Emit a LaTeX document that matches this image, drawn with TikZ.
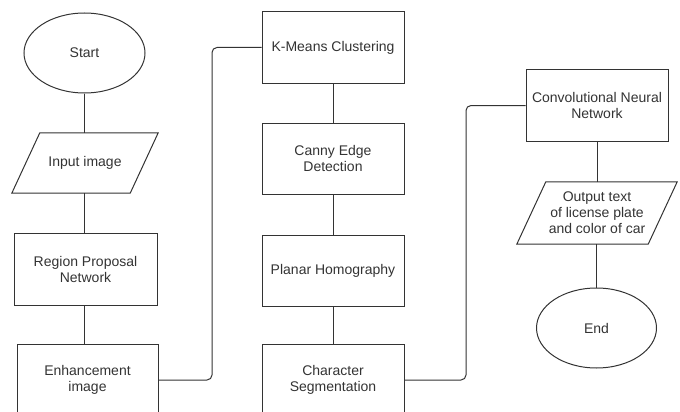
\documentclass[tikz,border=0pt]{standalone}
\usepackage{fontspec}
\setmainfont{Liberation Sans}
\usetikzlibrary{shapes.geometric}
\definecolor{ln}{HTML}{333333}
\definecolor{tx}{HTML}{333333}
\begin{document}
\begin{tikzpicture}[x=1pt,y=-1pt,
  every node/.style={font=\fontsize{14}{16}\selectfont, text=tx, align=center, inner sep=0pt},
  procbox/.style={draw=ln, line width=1pt, rectangle, minimum width=142pt, minimum height=71pt},
  term/.style={draw=ln, line width=1pt, ellipse, minimum width=121pt, minimum height=80pt},
  iobox/.style={rectangle, draw=none},
  pgram/.style={draw=ln, line width=1pt},
  link/.style={draw=ln, line width=1pt, rounded corners=5pt}]
\useasboundingbox (0,0) rectangle (680,412);
\clip (0,0) rectangle (680,412);
% column 1
\node[term] (start) at (84.5,53) {Start};
\node[iobox, minimum width=118pt, minimum height=60pt] (in) at (85,163) {Input image};
\draw[pgram] ([xshift=14pt]in.north west) -- ([xshift=14pt]in.north east) -- ([xshift=-14pt]in.south east) -- ([xshift=-14pt]in.south west) -- cycle;
\node[procbox, minimum width=143pt, minimum height=72pt] (rpn) at (85.5,269) {Region Proposal\\Network};
\node[procbox, minimum width=141pt, minimum height=72pt] (enh) at (87.5,380) {Enhancement\\image};
% column 2
\node[procbox] (km) at (333,47.5) {K-Means Clustering};
\node[procbox] (canny) at (333,158.5) {Canny Edge\\Detection};
\node[procbox] (planar) at (333,270.5) {Planar Homography};
\node[procbox, minimum height=72pt] (cs) at (333,380) {Character\\Segmentation};
% column 3
\node[procbox] (cnn) at (597,105.5) {Convolutional Neural\\Network};
\node[iobox, minimum width=131pt, minimum height=62pt] (out) at (597,213) {Output text\\of license plate\\and color of car};
\draw[pgram] ([xshift=14.5pt]out.north west) -- ([xshift=14.5pt]out.north east) -- ([xshift=-14.5pt]out.south east) -- ([xshift=-14.5pt]out.south west) -- cycle;
\node[term, minimum width=120pt] (end) at (596.5,328) {End};
% connectors
\draw[link] (start.south) -- (start.south |- in.north);
\draw[link] (in.south -| start.south) -- (start.south |- rpn.north);
\draw[link] (84.5,305) coordinate (a1) (rpn.south -| a1) -- (a1 |- enh.north);
\draw[link] (enh.east) -- (212,380) -- (212,47.5) -- (km.west);
\draw[link] (km.south) -- (canny.north);
\draw[link] (canny.south) -- (planar.north);
\draw[link] (planar.south) -- (cs.north);
\draw[link] (cs.east) -- (466,380) -- (466,105.5) -- (cnn.west);
\draw[link] (cnn.south -| out.north) -- (out.north);
\draw[link] (out.south -| end.north) -- (end.north);
\end{tikzpicture}
\end{document}
